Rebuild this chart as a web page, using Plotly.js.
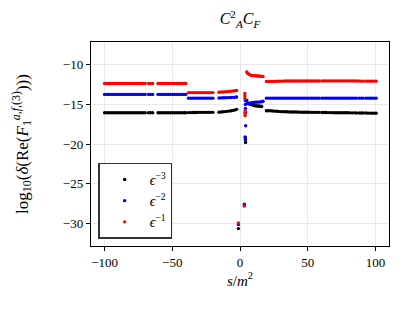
<!DOCTYPE html>
<html><head><meta charset="utf-8">
<script src="https://cdn.plot.ly/plotly-3.0.1.min.js"></script>
<style>html,body{margin:0;padding:0;background:#fff;}#chart{width:410px;height:313px;}</style>
</head><body><div id="chart"></div>
<script>
// shared x positions for flat parts
const xLeft = [-100,-98.5,-97,-95.5,-94,-92.5,-91,-89.5,-88,-86.5,-85,-83.5,-82,-80.5,-79,-77.5,-76,-74.5,-73,-71.5,-70,-67.5,-66,-64.5,
  -60.5,-59,-57.5,-56,-54.5,-53,-51.5,-50,-48.5,-47,-45.5,-44,-42.5,-41,-40,
  -38,-36.5,-35,-33.5,-32,-30.5,-29,-27.5,-26,-24.5,-23,-21.5,-20,
  -15.5,-14,-12.5,-11,-9.5,-8,-6.5,-5,-3.5,-2.5];
const xRight = [19.5,21,22.5,24,25.5,27,28.5,30,31.5,33,34.5,36,37.5,39,40.5,42,43.5,45,46.5,48,49.5,51,52.5,54,55.5,57,58.5,
  60.5,62,63.5,65,66.5,68,69.5,71,72.5,74,75.5,77,78.5,80,81.5,83,84.5,86,88,89.5,91,93,94.5,96,97.5,99,100.5];

// eps^-3 (black)
const blackLeft = [-16.05,-16.05,-16.05,-16.05,-16.05,-16.05,-16.05,-16.05,-16.05,-16.05,-16.05,-16.05,-16.05,-16.05,-16.05,-16.05,-16.05,-16.05,-16.05,-16.05,-16.05,-16.05,-16.05,-16.05,
  -16.05,-16.05,-16.05,-16.05,-16.05,-16.05,-16.05,-16.05,-16.05,-16.05,-16.05,-16.05,-16.05,-16.05,-16.05,
  -16.03,-16.03,-16.02,-16.02,-16.02,-16.0,-16.0,-16.0,-16.0,-16.0,-16.0,-16.0,-16.0,
  -15.97,-15.95,-15.92,-15.9,-15.87,-15.84,-15.8,-15.75,-15.68,-15.62];
const blackMidX = [-1.2,3.2,3.9,4.0,4.1,5.0,6.0,7.0,8.0,9.0,10.0,11.0,12.0,13.0,14.0,15.0,16.0];
const blackMid  = [-30.7,-27.7,-19.2,-19.5,-19.8,-14.5,-14.85,-14.95,-15.0,-15.05,-15.1,-15.15,-15.2,-15.2,-15.2,-15.22,-15.25];
const blackRight = [-15.8,-15.8,-15.8,-15.82,-15.84,-15.86,-15.88,-15.9,-15.91,-15.92,-15.93,-15.94,-15.95,-15.95,-15.96,-15.96,-15.97,-15.97,-15.98,-15.98,-15.99,-15.99,-16.0,-16.0,-16.0,-16.0,-16.0,
  -16.02,-16.02,-16.02,-16.03,-16.03,-16.03,-16.04,-16.04,-16.04,-16.05,-16.05,-16.05,-16.05,-16.05,-16.06,-16.06,-16.06,-16.07,-16.07,-16.08,-16.08,-16.08,-16.09,-16.09,-16.1,-16.1,-16.1];

// eps^-2 (blue)
const blueLeft = [-13.73,-13.73,-13.73,-13.73,-13.73,-13.73,-13.73,-13.73,-13.73,-13.73,-13.73,-13.73,-13.73,-13.73,-13.73,-13.73,-13.73,-13.73,-13.73,-13.73,-13.73,-13.73,-13.73,-13.73,
  -13.73,-13.73,-13.73,-13.73,-13.73,-13.73,-13.73,-13.73,-13.73,-13.73,-13.73,-13.73,-13.73,-13.73,-13.73,
  -14.2,-14.2,-14.2,-14.2,-14.2,-14.2,-14.2,-14.2,-14.2,-14.2,-14.2,-14.2,-14.2,
  -14.18,-14.17,-14.16,-14.15,-14.14,-14.13,-14.12,-14.1,-14.08,-14.05];
const blueMidX = [-1.2,3.2,3.8,4.0,4.0,4.0,4.0,4.0,4.2,5.0,6.0,7.0,8.0,9.0,10.0,11.0,12.0,13.0,14.0,15.0,16.0,17.0];
const blueMid  = [-30.2,-27.6,-19.1,-19.5,-14.5,-15.0,-15.5,-16.0,-17.7,-14.9,-14.9,-14.85,-14.8,-14.78,-14.75,-14.72,-14.7,-14.7,-14.7,-14.67,-14.65,-14.6];
const blueRight = [-14.2,-14.2,-14.2,-14.2,-14.2,-14.2,-14.2,-14.2,-14.2,-14.2,-14.2,-14.2,-14.2,-14.2,-14.2,-14.2,-14.2,-14.2,-14.2,-14.2,-14.2,-14.2,-14.2,-14.2,-14.2,-14.2,-14.2,
  -14.2,-14.2,-14.2,-14.2,-14.2,-14.2,-14.2,-14.2,-14.2,-14.2,-14.2,-14.2,-14.2,-14.2,-14.2,-14.2,-14.2,-14.2,-14.2,-14.2,-14.2,-14.2,-14.2,-14.2,-14.2,-14.2,-14.2];

// eps^-1 (red)
const redLeft = [-12.35,-12.35,-12.35,-12.35,-12.35,-12.35,-12.35,-12.35,-12.35,-12.35,-12.35,-12.35,-12.35,-12.35,-12.35,-12.35,-12.35,-12.35,-12.35,-12.35,-12.35,-12.35,-12.35,-12.35,
  -12.35,-12.35,-12.35,-12.35,-12.35,-12.35,-12.35,-12.35,-12.35,-12.35,-12.35,-12.35,-12.35,-12.35,-12.35,
  -13.5,-13.5,-13.5,-13.5,-13.5,-13.5,-13.5,-13.5,-13.5,-13.5,-13.5,-13.5,-13.5,
  -13.45,-13.43,-13.42,-13.4,-13.38,-13.36,-13.33,-13.3,-13.26,-13.22];
const redMidX = [-1.2,3.2,3.6,3.6,3.6,3.8,3.8,3.8,5.0,5.5,6.0,7.0,8.0,9.0,10.0,11.0,12.0,13.0,14.0,15.0,16.0,17.0];
const redMid  = [-30.0,-27.85,-13.6,-13.9,-14.2,-15.8,-16.1,-16.4,-10.9,-11.0,-11.1,-11.2,-11.3,-11.32,-11.35,-11.37,-11.4,-11.4,-11.4,-11.42,-11.45,-11.45];
const redRight = [-12.08,-12.08,-12.08,-12.08,-12.08,-12.07,-12.06,-12.05,-12.05,-12.04,-12.03,-12.03,-12.03,-12.03,-12.03,-12.03,-12.03,-12.03,-12.03,-12.03,-12.03,-12.03,-12.03,-12.03,-12.03,-12.03,-12.03,
  -12.02,-12.02,-12.02,-12.02,-12.02,-12.02,-12.02,-12.02,-12.02,-12.02,-12.02,-12.02,-12.02,-12.02,-12.02,-12.02,-12.02,-12.03,-12.04,-12.05,-12.05,-12.05,-12.05,-12.05,-12.05,-12.05,-12.05];

const names = ['<i>ϵ</i><sup>−3</sup>','<i>ϵ</i><sup>−2</sup>','<i>ϵ</i><sup>−1</sup>'];
const colors = ['#000000','#0000ff','#ff0000'];
const seriesY = [[blackLeft,blackMid,blackRight],[blueLeft,blueMid,blueRight],[redLeft,redMid,redRight]];
const seriesMidX = [blackMidX,blueMidX,redMidX];

const traces = seriesY.map((s,i)=>({
  type:'scatter', mode:'markers', name:names[i],
  x: xLeft.concat(seriesMidX[i], xRight),
  y: s[0].concat(s[1], s[2]),
  marker:{color:colors[i], size:3.4}
}));

const serif = '"Liberation Serif", "DejaVu Serif", serif';
const layout = {
  width:410, height:313,
  margin:{l:91, r:21, t:42, b:67},
  paper_bgcolor:'#fff', plot_bgcolor:'#fff',
  font:{family:serif, color:'#000', size:13},
  title:{text:'<i>C</i><sup>2</sup><sub><i>A</i></sub><i>C</i><sub><i>F</i></sub>', x:0.5, xref:'paper', y:0.94, yanchor:'middle', font:{family:serif, size:16, color:'#000'}},
  xaxis:{range:[-110,110], tickvals:[-100,-50,0,50,100], ticks:'outside', ticklen:4, tickcolor:'#000',
    showline:true, linecolor:'#000', linewidth:1.2, mirror:true, zeroline:false,
    showgrid:true, gridcolor:'#e3e3e3', gridwidth:0.8,
    tickfont:{family:serif, size:13},
    title:{text:'<i>s</i>/<i>m</i><sup>2</sup>', font:{family:serif, size:15}, standoff:6}},
  yaxis:{range:[-32.9,-7.1], tickvals:[-30,-25,-20,-15,-10], ticks:'outside', ticklen:4, tickcolor:'#000',
    showline:true, linecolor:'#000', linewidth:1.2, mirror:true, zeroline:false,
    showgrid:true, gridcolor:'#e3e3e3', gridwidth:0.8,
    tickfont:{family:serif, size:13},
    title:{text:'log<sub>10</sub>(<i>δ</i>(Re(<i>F</i><sub>1</sub><sup><i>a,f</i>,(3)</sup>)))', font:{family:serif, size:17}, standoff:30}},
  showlegend:true,
  legend:{x:0.025, y:0.036, xanchor:'left', yanchor:'bottom', bgcolor:'#fff', bordercolor:'#333', borderwidth:1.2,
    font:{family:serif, size:14}, itemsizing:'trace', itemwidth:40, tracegroupgap:0}
};
Plotly.newPlot('chart', traces, layout, {displayModeBar:false, staticPlot:true});
</script></body></html>
